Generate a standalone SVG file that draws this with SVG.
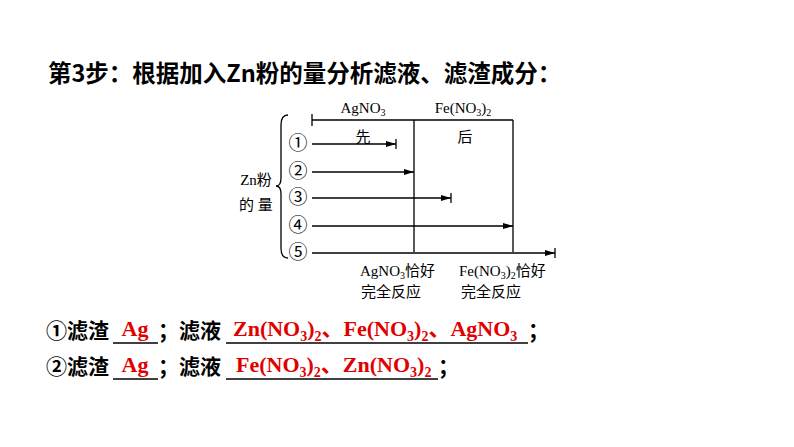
<svg xmlns="http://www.w3.org/2000/svg" width="794" height="447" viewBox="0 0 794 447">
<defs>
<marker id="ar" viewBox="0 0 10 6" refX="10" refY="3" markerWidth="10" markerHeight="6" markerUnits="userSpaceOnUse" orient="auto"><path d="M0,0 L10,3 L0,6 Z" fill="#000"/></marker>
</defs>
<style>
.t{font-family:"Noto Sans CJK SC","Liberation Sans",sans-serif;font-weight:bold;font-size:21px;fill:#000}
.h{font-size:23.5px}
.r{font-family:"Liberation Serif","Noto Sans CJK SC",serif;font-weight:bold;font-size:22px;fill:#e00000}
.s{font-family:"Liberation Serif","Noto Sans CJK SC",serif;font-size:15px;fill:#000}
.ln{stroke:#000;stroke-width:1.3;fill:none}
.u{stroke:#000;stroke-width:1.3}
</style>
<rect width="794" height="447" fill="#fff"/>
<text class="t h" x="48" y="82">第3步：根据加入Zn粉的量分析滤液、滤渣成分：</text>
<g id="diagram">
<g id="connectors" class="ln">
<path d="M312,120 H513 M312,114 V126 M414,120 V252 M513,120 V252"/>
<path d="M312,144 H396" marker-end="url(#ar)"/><path d="M396,139 V149"/>
<path d="M312,172 H414" marker-end="url(#ar)"/>
<path d="M312,198 H451" marker-end="url(#ar)"/><path d="M451,193 V203"/>
<path d="M312,226 H513" marker-end="url(#ar)"/>
<path d="M312,253 H555" marker-end="url(#ar)"/><path d="M555,248 V258"/>
<path d="M288,115 Q281,115 281,125 V178 Q281,186 276,186 Q281,186 281,194 V248 Q281,258 288,258"/>
</g>
<g id="labels" class="s">
<text x="363" y="113" text-anchor="middle">AgNO<tspan font-size="10" dy="3">3</tspan></text>
<text x="463" y="113" text-anchor="middle">Fe(NO<tspan font-size="10" dy="3">3</tspan><tspan dy="-3">)</tspan><tspan font-size="10" dy="3">2</tspan></text>
<text x="363" y="142" text-anchor="middle">先</text>
<text x="465" y="142" text-anchor="middle">后</text>
<text x="298" y="150" text-anchor="middle" font-size="19">①</text>
<text x="298" y="178" text-anchor="middle" font-size="19">②</text>
<text x="298" y="204" text-anchor="middle" font-size="19">③</text>
<text x="298" y="232" text-anchor="middle" font-size="19">④</text>
<text x="298" y="259" text-anchor="middle" font-size="19">⑤</text>
<text x="256" y="185" text-anchor="middle">Zn粉</text>
<text x="256" y="210" text-anchor="middle">的 量</text>
<text x="360" y="276">AgNO<tspan font-size="10" dy="3">3</tspan><tspan dy="-3">恰好</tspan></text>
<text x="361" y="297">完全反应</text>
<text x="459" y="276">Fe(NO<tspan font-size="10" dy="3">3</tspan><tspan dy="-3">)</tspan><tspan font-size="10" dy="3">2</tspan><tspan dy="-3">恰好</tspan></text>
<text x="461" y="297">完全反应</text>
</g>
</g>
<g id="answers">
<text class="t" x="46" y="338">①滤渣</text>
<line class="u" x1="113" y1="343" x2="158" y2="343"/>
<text class="r" x="135" y="336" text-anchor="middle">Ag</text>
<text class="t" x="158" y="338">；滤液</text>
<line class="u" x1="226" y1="343" x2="528" y2="343"/>
<text class="r" x="233" y="336">Zn(NO<tspan font-size="14" dy="5">3</tspan><tspan dy="-5">)</tspan><tspan font-size="14" dy="5">2</tspan><tspan dy="-5">、Fe(NO</tspan><tspan font-size="14" dy="5">3</tspan><tspan dy="-5">)</tspan><tspan font-size="14" dy="5">2</tspan><tspan dy="-5">、AgNO</tspan><tspan font-size="14" dy="5">3</tspan></text>
<text class="t" x="528" y="338">；</text>
<text class="t" x="46" y="374">②滤渣</text>
<line class="u" x1="113" y1="379" x2="158" y2="379"/>
<text class="r" x="135" y="372" text-anchor="middle">Ag</text>
<text class="t" x="158" y="374">；滤液</text>
<line class="u" x1="226" y1="379" x2="438" y2="379"/>
<text class="r" x="236" y="372">Fe(NO<tspan font-size="14" dy="5">3</tspan><tspan dy="-5">)</tspan><tspan font-size="14" dy="5">2</tspan><tspan dy="-5">、Zn(NO</tspan><tspan font-size="14" dy="5">3</tspan><tspan dy="-5">)</tspan><tspan font-size="14" dy="5">2</tspan></text>
<text class="t" x="438" y="374">；</text>
</g>
</svg>
